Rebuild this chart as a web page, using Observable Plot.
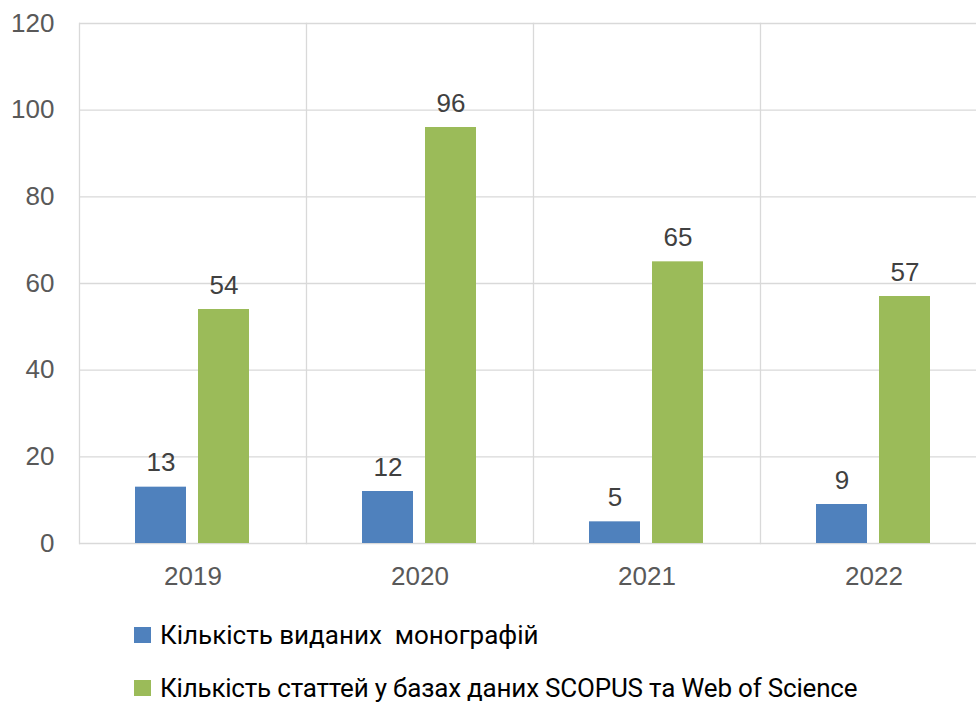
<!DOCTYPE html>
<html>
<head>
<meta charset="utf-8">
<script src="https://cdn.jsdelivr.net/npm/d3@7"></script>
<script src="https://cdn.jsdelivr.net/npm/@observablehq/plot@0.6"></script>
<style>
  html, body { margin: 0; padding: 0; background: #fff; overflow: hidden; width: 976px; height: 704px; }
  #wrap { position: relative; width: 976px; height: 704px; overflow: hidden; }
  #chart { position: absolute; left: 0; top: 0; }
  #chart svg { max-width: none !important; height: 600px !important; }
  .leg { position: absolute; left: 134px; font-family: Roboto, "Noto Sans", sans-serif; font-size: 26px; color: #000; white-space: pre; display: flex; align-items: center; }
  .sw { width: 17px; height: 16px; margin-right: 9px; flex: none; }
</style>
</head>
<body>
<div id="wrap">
  <div id="chart"></div>
  <div id="legend"></div>
</div>
<script>
const years = ["2019", "2020", "2021", "2022"];
const monographs = [13, 12, 5, 9];
const articles = [54, 96, 65, 57];
const seriesNames = ["Кількість виданих  монографій", "Кількість статтей у базах даних SCOPUS та Web of Science"];
const colors = ["#4f81bd", "#9bbb59"];
const yTicks = [0, 20, 40, 60, 80, 100, 120];

const rows = years.flatMap((yr, i) => [
  {year: yr, series: seriesNames[0], value: monographs[i]},
  {year: yr, series: seriesNames[1], value: articles[i]}
]);

const chart = Plot.plot({
  width: 1000,
  height: 600,
  marginLeft: 78,
  marginRight: 12,
  marginTop: 23,
  marginBottom: 57,
  facet: {margin: 0, marginTop: 0, marginRight: 0, marginBottom: 0, marginLeft: 0},
  style: {fontFamily: "'Liberation Sans', Arial, sans-serif", background: "#fff", maxWidth: "none"},
  fx: {domain: years, paddingInner: 0, paddingOuter: 0, label: null, axis: null},
  x: {domain: seriesNames, paddingInner: 0.1875, paddingOuter: 0.871, axis: null},
  y: {domain: [0, 120], axis: null},
  color: {domain: seriesNames, range: colors},
  marks: [
    Plot.ruleY(yTicks, {stroke: "#d9d9d9", strokeWidth: 1.3}),
    Plot.frame({anchor: "left", stroke: "#d9d9d9", strokeWidth: 1.3}),
    Plot.axisY({ticks: yTicks, tickSize: 0, tickPadding: 25, fontSize: 26, color: "#595959", label: null}),
    Plot.axisFx({anchor: "bottom", tickSize: 0, tickPadding: 23, fontSize: 26, color: "#595959", label: null}),
    Plot.barY(rows, {fx: "year", x: "series", y: "value", fill: "series"}),
    Plot.text(rows, {fx: "year", x: "series", y: "value", text: d => String(d.value), dy: -24, fontSize: 26, fill: "#404040"})
  ]
});
document.getElementById("chart").appendChild(chart);

const legend = document.getElementById("legend");
const centers = [635, 687.5];
seriesNames.forEach((name, i) => {
  const row = document.createElement("div");
  row.className = "leg";
  row.style.top = (centers[i] - 17) + "px";
  row.style.height = "34px";
  const sw = document.createElement("div");
  sw.className = "sw";
  sw.style.background = colors[i];
  const t = document.createElement("span");
  t.textContent = name;
  if (i === 1) t.style.letterSpacing = "-0.2px";
  row.appendChild(sw);
  row.appendChild(t);
  legend.appendChild(row);
});
</script>
</body>
</html>
